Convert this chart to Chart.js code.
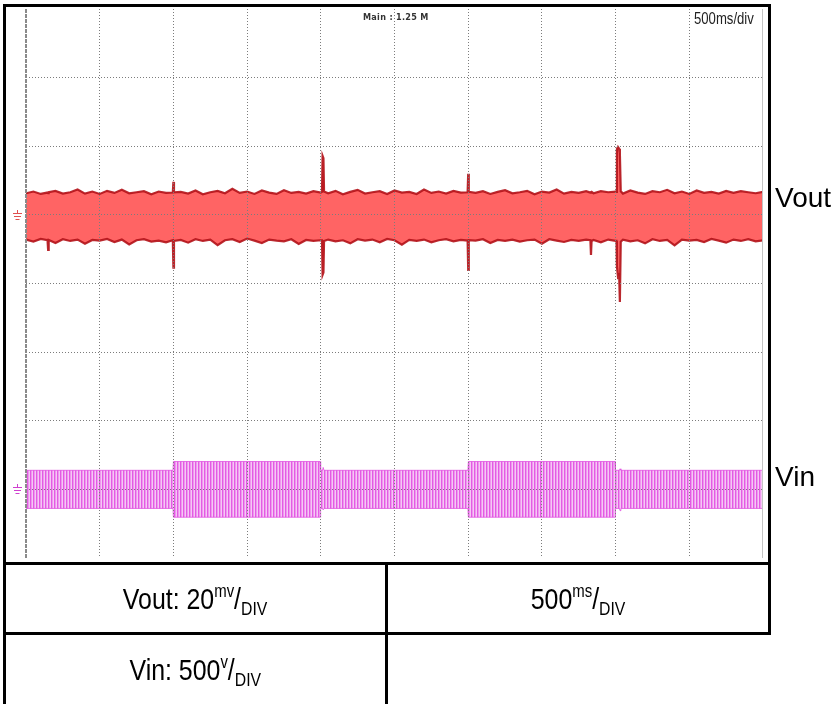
<!DOCTYPE html>
<html>
<head>
<meta charset="utf-8">
<script src="https://cdn.jsdelivr.net/npm/chart.js@4.4.1/dist/chart.umd.min.js"></script>
<style>
  html, body { margin: 0; padding: 0; background: #fff; }
  #wrap { position: relative; width: 837px; height: 704px; overflow: hidden; background: #fff; }
  #c { position: absolute; left: 0; top: 0; }
  .blk { position: absolute; background: #000; }
  .lbl { position: absolute; font-family: "Liberation Sans", Arial, sans-serif; color: #000; white-space: nowrap; }
  .cell { position: absolute; display: flex; align-items: center; justify-content: center;
          font-family: "Liberation Sans", Arial, sans-serif; font-size: 30px; color: #000; white-space: nowrap; }
  .cell > span { display: inline-block; transform: scaleX(0.83); transform-origin: center; }
  .cell sup { font-size: 18px; vertical-align: 0; position: relative; top: -12px; }
  .cell sub { font-size: 19px; vertical-align: 0; position: relative; top: 6px; }
</style>
</head>
<body>
<div id="wrap">
  <canvas id="c" width="837" height="704"></canvas>

  <!-- frame and table lines -->
  <div class="blk" style="left:3px;top:4px;width:768px;height:3px;"></div>
  <div class="blk" style="left:3px;top:4px;width:3px;height:700px;"></div>
  <div class="blk" style="left:768px;top:4px;width:3px;height:631px;"></div>
  <div class="blk" style="left:3px;top:562px;width:768px;height:3px;"></div>
  <div class="blk" style="left:3px;top:632px;width:768px;height:3px;"></div>
  <div class="blk" style="left:385px;top:562px;width:3px;height:142px;"></div>

  <!-- scope texts -->
  <div class="lbl" style="left:363px;top:12px;font-size:9px;font-weight:bold;color:#333;letter-spacing:0.3px;font-family:'DejaVu Sans Condensed','DejaVu Sans',sans-serif;">Main : 1.25 M</div>
  <div class="lbl" style="left:694px;top:10px;font-size:16px;color:#222;transform:scaleX(0.82);transform-origin:left center;">500ms/div</div>
  <div class="lbl" style="left:775px;top:184px;font-size:28px;line-height:28px;">Vout</div>
  <div class="lbl" style="left:775px;top:463px;font-size:28px;line-height:28px;">Vin</div>

  <!-- table cells -->
  <div class="cell" style="left:6px;top:565px;width:379px;height:67px;"><span>Vout: 20<sup>mv</sup>/<sub>DIV</sub></span></div>
  <div class="cell" style="left:388px;top:565px;width:380px;height:67px;"><span>500<sup>ms</sup>/<sub>DIV</sub></span></div>
  <div class="cell" style="left:6px;top:635px;width:379px;height:69px;"><span>Vin: 500<sup>v</sup>/<sub>DIV</sub></span></div>
</div>

<script>
// ---------- DATA ----------
// time axis: 500 ms per division, 10 divisions
const timeTicksMs = [0, 500, 1000, 1500, 2000, 2500, 3000, 3500, 4000, 4500, 5000];
const voltDivs = [-4, -3, -2, -1, 0, 1, 2, 3, 4];

const voutScaleMvPerDiv = 20;   // Vout: 20 mV/DIV
const voutGroundDiv = 1;        // Vout ground marker position (divisions)
const vinScaleVPerDiv = 500;    // Vin: 500 V/DIV
const vinGroundDiv = -3;        // Vin ground marker position (divisions)

// Vout envelope (ms, mV)
const voutTime = [
  0, 50, 100, 146, 150, 154,
  200, 250, 300, 350, 400, 450, 500, 550, 600, 650, 700, 750, 800, 850, 900, 950,
  996, 1000, 1004,
  1050, 1100, 1150, 1200, 1250, 1300, 1350, 1400, 1450, 1500, 1550, 1600, 1650, 1700, 1750, 1800, 1850, 1900, 1950, 2000,
  2008, 2012, 2018, 2022,
  2050, 2100, 2150, 2200, 2250, 2300, 2350, 2400, 2450, 2500, 2550, 2600, 2650, 2700, 2750, 2800, 2850, 2900, 2950,
  2996, 3000, 3004,
  3050, 3100, 3150, 3200, 3250, 3300, 3350, 3400, 3450, 3500, 3550, 3600, 3650, 3700, 3750, 3800,
  3829, 3833, 3837,
  3850, 3900, 3950, 4000,
  4006, 4009, 4016, 4024, 4029, 4035,
  4050, 4100, 4150, 4200, 4250, 4300, 4350, 4400, 4450, 4500, 4550, 4600, 4650, 4700, 4750, 4800, 4850, 4900, 4950, 5000
];
const voutHigh = [
  6.3, 6.8, 6.1, 6.5, 6.3, 6.6,
  7.0, 6.2, 6.6, 7.4, 6.2, 6.8, 6.1, 7.0, 6.4, 7.3, 6.3, 6.6, 6.9, 6.0, 6.8, 6.4,
  6.5, 9.6, 6.6,
  6.7, 6.2, 7.1, 6.0, 6.6, 7.0, 6.3, 7.6, 6.4, 6.8, 6.1, 7.1, 6.5, 6.1, 7.2, 6.4, 6.7, 6.2, 6.9, 6.5,
  6.7, 17.2, 16.5, 6.8,
  6.3, 7.0, 6.0, 6.7, 7.3, 6.2, 6.6, 6.9, 6.1, 7.1, 6.5, 6.7, 6.1, 7.4, 6.4, 6.8, 6.2, 7.0, 6.5,
  6.6, 12.0, 6.7,
  6.4, 6.9, 6.1, 6.7, 7.2, 6.3, 6.6, 7.0, 6.0, 6.8, 6.5, 7.4, 6.2, 6.7, 6.4, 6.9,
  6.5, 6.6, 6.7,
  6.3, 6.9, 6.6, 6.8,
  6.7, 19.2, 19.8, 19.3, 18.0, 6.9,
  6.2, 7.1, 6.5, 6.1, 6.9, 6.6, 7.3, 6.3, 6.8, 6.1, 7.1, 6.4, 6.7, 6.2, 7.0, 6.4, 6.9, 6.6, 6.3, 6.7
];
const voutLow = [
  -7.2, -7.8, -7.0, -7.4, -10.2, -7.3,
  -8.2, -7.1, -7.6, -7.2, -8.4, -7.3, -7.5, -7.0, -7.9, -7.2, -8.6, -7.4, -7.1, -7.8, -7.5, -8.0,
  -7.4, -15.4, -7.6,
  -7.3, -8.1, -7.1, -7.6, -7.2, -8.8, -7.4, -7.1, -7.9, -6.9, -7.5, -8.2, -7.2, -7.5, -7.7, -7.1, -8.5, -7.3, -7.6, -7.4,
  -7.4, -17.5, -16.8, -7.6,
  -7.2, -7.7, -7.4, -8.3, -7.1, -7.5, -7.2, -8.0, -7.0, -7.4, -8.7, -7.3, -7.6, -7.2, -8.0, -7.4, -7.1, -7.7, -7.3,
  -7.5, -16.0, -7.4,
  -7.5, -7.1, -8.2, -7.3, -7.6, -7.2, -7.8, -7.4, -7.2, -8.4, -7.1, -7.5, -7.9, -7.3, -7.6, -7.2,
  -7.4, -11.7, -7.6,
  -7.3, -8.0, -7.2, -7.6,
  -7.6, -15.0, -18.0, -17.5, -25.4, -7.8,
  -7.2, -7.7, -7.4, -8.3, -7.1, -7.6, -7.3, -8.9, -7.2, -7.5, -7.3, -7.9, -7.0, -7.5, -8.1, -7.2, -7.6, -7.1, -7.7, -7.4
];

// Vin envelope (ms, V)
const vinTime  = [0, 997, 1000, 1996, 1999, 2012, 2016, 2022, 2998, 3001, 3996, 3999, 4026, 4030, 4036, 5000];
const vinHigh  = [139, 139, 203, 203, 139, 139, 160, 139, 139, 203, 203, 139, 139, 150, 139, 139];
const vinLow   = [-139, -139, -203, -203, -139, -139, -150, -139, -139, -203, -203, -139, -139, -155, -139, -139];
const vinInnerHigh = [67, 67, 100, 100, 67, 67, 67, 67, 67, 100, 100, 67, 67, 67, 67, 67];
const vinInnerLow  = [-67, -67, -100, -100, -67, -67, -67, -67, -67, -100, -100, -67, -67, -67, -67, -67];

// ---------- BUILD ----------
const toVout = (t, arr) => t.map((x, i) => ({ x, y: voutGroundDiv + arr[i] / voutScaleMvPerDiv }));
const toVin  = (t, arr) => t.map((x, i) => ({ x, y: vinGroundDiv + arr[i] / vinScaleVPerDiv }));

function stripePattern() {
  const c = document.createElement('canvas');
  c.width = 3; c.height = 4;
  const g = c.getContext('2d');
  g.fillStyle = '#f5c8f5'; g.fillRect(0, 0, 3, 4);
  g.fillStyle = '#e45ae4'; g.fillRect(0, 0, 1, 4);
  g.fillStyle = '#ee98ee'; g.fillRect(1, 0, 1, 4);
  return g.createPattern(c, 'repeat');
}

const edgesPlugin = {
  id: 'edges',
  afterDraw(chart) {
    const { ctx, chartArea: a, scales } = chart;
    ctx.save();
    // left dashed edge
    ctx.strokeStyle = '#8a8a8a';
    ctx.lineWidth = 2;
    ctx.setLineDash([4, 1]);
    ctx.beginPath(); ctx.moveTo(a.left, a.top); ctx.lineTo(a.left, a.bottom); ctx.stroke();
    // right edge
    ctx.setLineDash([]);
    ctx.strokeStyle = '#c4c4c4';
    ctx.lineWidth = 1;
    ctx.beginPath(); ctx.moveTo(a.right - 0.5, a.top); ctx.lineTo(a.right - 0.5, a.bottom); ctx.stroke();
    // ground markers
    const marks = [[voutGroundDiv, '#e05050'], [vinGroundDiv, '#d040d0']];
    marks.forEach(([v, col]) => {
      const gy = Math.round(scales.y.getPixelForValue(v));
      ctx.strokeStyle = col; ctx.lineWidth = 1;
      ctx.beginPath();
      ctx.moveTo(17.5, gy - 5); ctx.lineTo(17.5, gy - 1);
      ctx.moveTo(13, gy - 1.5); ctx.lineTo(22, gy - 1.5);
      ctx.moveTo(14, gy + 1.5); ctx.lineTo(21, gy + 1.5);
      ctx.moveTo(15.5, gy + 4.5); ctx.lineTo(19.5, gy + 4.5);
      ctx.stroke();
    });
    ctx.restore();
  }
};

const gridColor = (ctx, lastIdx) => (ctx.index === 0 || ctx.index === lastIdx) ? 'rgba(0,0,0,0)' : '#7c7c7c';

new Chart(document.getElementById('c'), {
  type: 'line',
  data: {
    datasets: [
      { label: 'Vin+', data: toVin(vinTime, vinHigh), borderColor: 'rgba(222,70,222,0.7)', borderWidth: 1, fill: false },
      { label: 'Vin-', data: toVin(vinTime, vinLow), borderColor: 'rgba(222,70,222,0.7)', borderWidth: 1, fill: '-1', backgroundColor: stripePattern() },
      { label: 'Vin inner+', data: toVin(vinTime, vinInnerHigh), borderColor: '#c933c9', borderWidth: 1.5, borderDash: [1, 3], fill: false },
      { label: 'Vin inner-', data: toVin(vinTime, vinInnerLow), borderColor: '#c933c9', borderWidth: 1.5, borderDash: [1, 3], fill: false },
      { label: 'Vout+', data: toVout(voutTime, voutHigh), borderColor: 'rgba(178,18,24,0.9)', borderWidth: 2.2, fill: false },
      { label: 'Vout-', data: toVout(voutTime, voutLow), borderColor: 'rgba(178,18,24,0.9)', borderWidth: 2.2, fill: '-1', backgroundColor: '#ff6464' }
    ]
  },
  options: {
    responsive: false,
    animation: false,
    devicePixelRatio: 1,
    layout: { padding: { left: 26, right: 74, top: 9, bottom: 146 } },
    plugins: { legend: { display: false }, tooltip: { enabled: false } },
    elements: { point: { radius: 0 }, line: { tension: 0 } },
    scales: {
      x: {
        type: 'linear', min: timeTicksMs[0], max: timeTicksMs[timeTicksMs.length - 1],
        afterBuildTicks: s => { s.ticks = timeTicksMs.map(v => ({ value: v })); },
        ticks: { display: false },
        grid: { drawTicks: false, z: 1, lineWidth: 1, color: c => gridColor(c, timeTicksMs.length - 1) },
        border: { display: false, dash: [1, 2] }
      },
      y: {
        type: 'linear', min: voltDivs[0], max: voltDivs[voltDivs.length - 1],
        afterBuildTicks: s => { s.ticks = voltDivs.map(v => ({ value: v })); },
        ticks: { display: false },
        grid: { drawTicks: false, z: 1, lineWidth: 1, color: c => gridColor(c, voltDivs.length - 1) },
        border: { display: false, dash: [1, 2] }
      }
    }
  },
  plugins: [edgesPlugin]
});
</script>
</body>
</html>
